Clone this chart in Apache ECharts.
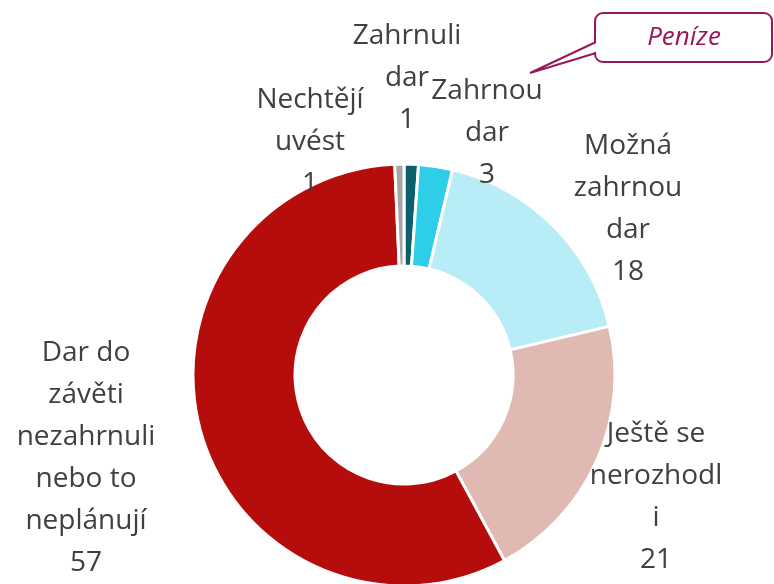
<!DOCTYPE html>
<html>
<head>
<meta charset="utf-8">
<script src="https://cdn.jsdelivr.net/npm/echarts@6/dist/echarts.min.js"></script>
<style>
  html, body { margin: 0; padding: 0; background: #fff; }
  #chart { width: 774px; height: 584px; }
</style>
</head>
<body>
<div id="chart"></div>
<script>
// categories as shown (wrapped like in the original labels)
const categories = [
  'Zahrnuli\ndar',
  'Zahrnou\ndar',
  'Možná\nzahrnou\ndar',
  'Ještě se\nnerozhodl\ni',
  'Dar do\nzávěti\nnezahrnuli\nnebo to\nneplánují',
  'Nechtějí\nuvést'
]
// share in %, labels show rounded values
const values = [1.1, 2.6, 17.6, 20.8, 57.2, 0.7]
const colors = ['#0c5f6d', '#2ecde8', '#b8ecf6', '#e0bab2', '#b50c0c', '#a5a5a5']
const calloutText = 'Peníze'

// label block centres
const labelPos = [[407, 78], [487, 133], [628, 209], [656, 497], [86, 458], [310, 142]]

const chart = echarts.init(document.getElementById('chart'))
const calloutColor = '#98195a'

chart.setOption({
  animation: false,
  series: [{
    type: 'pie',
    center: [404, 375],
    radius: [109, 211],
    startAngle: 90,
    clockwise: true,
    data: values.map((v, i) => ({
      name: categories[i],
      value: v,
      itemStyle: { color: colors[i] }
    })),
    itemStyle: { borderColor: '#fff', borderWidth: 3 },
    label: {
      show: true,
      position: 'outside',
      formatter: p => p.name + '\n' + Math.round(p.value),
      color: '#404040',
      fontFamily: 'Open Sans',
      fontSize: 28,
      lineHeight: 42,
      align: 'center',
      overflow: 'none',
      edgeDistance: 0
    },
    labelLine: { show: false },
    labelLayout: p => ({
      x: labelPos[p.dataIndex][0],
      y: labelPos[p.dataIndex][1],
      align: 'center',
      verticalAlign: 'middle'
    }),
    emphasis: { disabled: true }
  }],
  graphic: [
    {
      type: 'rect',
      shape: { x: 595, y: 13, width: 177, height: 49, r: 8 },
      style: { fill: '#fff', stroke: calloutColor, lineWidth: 2 }
    },
    {
      type: 'rect',
      shape: { x: 593, y: 43, width: 5, height: 9 },
      style: { fill: '#fff' }
    },
    {
      type: 'polyline',
      shape: { points: [[596, 42], [530, 73], [596, 53]] },
      style: { fill: null, stroke: calloutColor, lineWidth: 2 }
    },
    {
      type: 'text',
      x: 684, y: 38,
      style: {
        text: calloutText,
        fill: calloutColor,
        font: 'italic 26px "Open Sans"',
        align: 'center',
        verticalAlign: 'middle'
      }
    }
  ]
})
</script>
</body>
</html>
